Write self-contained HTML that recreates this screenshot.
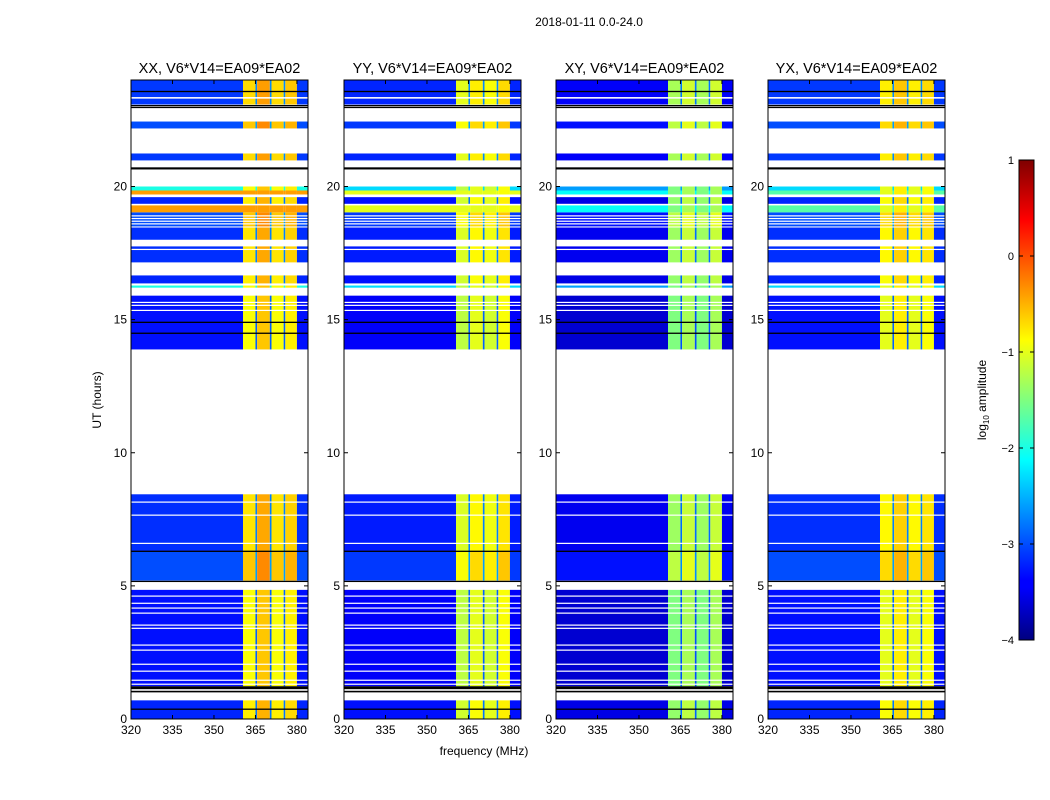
<!DOCTYPE html>
<html><head><meta charset="utf-8"><style>
body{margin:0;background:#fff;}
svg{display:block;font-family:"Liberation Sans",sans-serif;}
</style></head><body>
<svg id="fig" width="1050" height="800" viewBox="0 0 1050 800">
<rect width="1050" height="800" fill="#fff"/>
<text x="589" y="26" font-size="12" text-anchor="middle">2018-01-11 0.0-24.0</text>
<text transform="translate(101,400) rotate(-90)" font-size="12" text-anchor="middle">UT (hours)</text>
<text x="484" y="755" font-size="12" text-anchor="middle">frequency (MHz)</text>
<text transform="translate(986,400) rotate(-90)" font-size="12" text-anchor="middle">log<tspan font-size="8" dy="3">10</tspan><tspan dy="-3"> amplitude</tspan></text>
<defs><linearGradient id="jet" x1="0" y1="1" x2="0" y2="0">
<stop offset="0" stop-color="#00007f"/><stop offset="0.11" stop-color="#0000ff"/><stop offset="0.125" stop-color="#0000ff"/>
<stop offset="0.375" stop-color="#00ffff"/><stop offset="0.625" stop-color="#ffff00"/><stop offset="0.875" stop-color="#ff0000"/><stop offset="1" stop-color="#7f0000"/>
</linearGradient></defs>
<g id="cbar">
<rect x="1019" y="160" width="15" height="480" fill="url(#jet)" stroke="#000" stroke-width="1"/>
</g>
<g id="panels"></g>
</svg>
<script>
const panelTitles = ["XX, V6*V14=EA09*EA02","YY, V6*V14=EA09*EA02","XY, V6*V14=EA09*EA02","YX, V6*V14=EA09*EA02"];
const xTicks = [320,335,350,365,380];
const yTicks = [0,5,10,15,20];
const cbTicks = [1,0,-1,-2,-3,-4];
// frequency channel edges (MHz) and per-panel log10 amplitude levels
const chanStart = [320,360.5,365,365.6,370.2,370.8,375.2,375.8,380.0];
const chanEnd   = [360.5,365,365.6,370.2,370.8,375.2,375.8,380.0,384];
const chanXX = [-3.3,-0.9,-2.9,-0.6,-2.9,-0.9,-2.9,-0.8,-3.3];
const chanYY = [-3.4,-1.2,-2.9,-1.0,-2.9,-1.1,-2.9,-0.9,-3.4];
const chanXY = [-3.6,-1.5,-3.0,-1.3,-3.0,-1.5,-3.0,-1.3,-3.6];
const chanYX = [-3.3,-1.0,-2.9,-0.8,-2.9,-1.0,-2.9,-0.9,-3.3];
// time blocks with data (hours) and level offsets
const blockStart = [0,1.23,5.2,6.3,13.88,16.36,17.15,18.0,18.5,19.35,20.98,22.18,23.08,23.34];
const blockEnd   = [0.7,4.85,6.3,8.44,15.9,16.66,17.75,18.46,19.03,19.6,21.24,22.44,23.3,24];
const blockAdd   = [0.1,0,0.3,0.15,0,0.1,0.15,0.15,0.3,0.1,0.2,0.3,0.2,0.2];
// hot (broadband) rows and cyan rows
const hotStart = [19.03,19.7];
const hotEnd   = [19.29,19.85];
const hotFloor = [-0.4,-1.0,-2.1,-1.7];
const cyanStart = [19.85,16.2];
const cyanEnd   = [20.0,16.28];
const cyanFloor = [-2.0,-2.3,-2.6,-2.3];
// line flags
const blackLines = [0.37,5.17,6.3,14.49,14.9,20.68,22.97,23.04,23.57];
const blackThick = [[1.0,1.06],[1.12,1.23],[20.64,20.72]];
const whiteLines = [1.31,1.46,1.8,2.06,2.59,2.78,3.41,3.53,3.98,4.17,4.35,4.62,6.6,7.66,8.15,15.35,15.54,15.65,17.64,18.6,18.7,18.8,18.9,23.34];

const chans = [chanXX,chanYY,chanXY,chanYX];
const px0 = [131,344,556,768], pw = 177, py0 = 80, py1 = 719;
const yOf = h => py1 - (h/24)*(py1-py0);
const xOf = (p,f) => px0[p] + (f-320)*(pw/(384-320));
function jet(v){
  let t=(v+4)/5; t=Math.max(0,Math.min(1,t));
  const c=x=>Math.round(255*Math.max(0,Math.min(1,x)));
  return `rgb(${c(1.5-Math.abs(4*t-3))},${c(1.5-Math.abs(4*t-2))},${c(1.5-Math.abs(4*t-1))})`;
}
const NS="http://www.w3.org/2000/svg";
const G=document.getElementById('panels');
function mk(tag,attrs,parent){const e=document.createElementNS(NS,tag);for(const k in attrs)e.setAttribute(k,attrs[k]);(parent||G).appendChild(e);return e;}
for(let p=0;p<4;p++){
  const g=mk('g',{});
  
  
  const ch=chans[p];
  function band(h0,h1,fn,name){
    for(let j=0;j<chanStart.length;j++){
      const x=xOf(p,chanStart[j]), x2=xOf(p,chanEnd[j]);
      const r=mk('rect',{x:x,y:yOf(h1),width:x2-x,height:yOf(h0)-yOf(h1),fill:jet(fn(ch[j]))},g);
      
      
    }
  }
  for(let i=0;i<blockStart.length;i++) band(blockStart[i],blockEnd[i],v=>v+blockAdd[i],'heatmap-cell');
  for(let i=0;i<hotStart.length;i++) band(hotStart[i],hotEnd[i],v=>Math.max(v,hotFloor[p]),'hot-row-cell');
  for(let i=0;i<cyanStart.length;i++) band(cyanStart[i],cyanEnd[i],v=>Math.max(v,cyanFloor[p]),'cyan-row-cell');
  for(const h of whiteLines){const r=mk('rect',{x:px0[p],y:yOf(h)-0.5,width:pw,height:1.2,fill:'#fff'},g);
    }
  for(const h of blackLines){const r=mk('rect',{x:px0[p],y:yOf(h)-0.6,width:pw,height:1.3,fill:'#000'},g);
    }
  for(const b of blackThick){const r=mk('rect',{x:px0[p],y:yOf(b[1]),width:pw,height:yOf(b[0])-yOf(b[1]),fill:'#000'},g);
    }
  const fr=mk('rect',{x:px0[p],y:py0,width:pw,height:py1-py0,fill:'none',stroke:'#000','stroke-width':1},g);
  
  const t=mk('text',{x:px0[p]+pw/2,y:73,'font-size':14.5,'text-anchor':'middle'},g);
  t.textContent=panelTitles[p];
  
  for(const f of xTicks){const x=xOf(p,f);
    mk('line',{x1:x,y1:py1,x2:x,y2:py1-4,stroke:'#000'},g);mk('line',{x1:x,y1:py0,x2:x,y2:py0+4,stroke:'#000'},g);
    const l=mk('text',{x:x,y:py1+15,'font-size':12,'text-anchor':'middle'},g);l.textContent=f;
    }
  for(const h of yTicks){const y=yOf(h);
    mk('line',{x1:px0[p],y1:y,x2:px0[p]+4,y2:y,stroke:'#000'},g);mk('line',{x1:px0[p]+pw,y1:y,x2:px0[p]+pw-4,y2:y,stroke:'#000'},g);
    const l=mk('text',{x:px0[p]-4,y:y+4,'font-size':12,'text-anchor':'end'},g);l.textContent=h;
    }
}
const cb=document.getElementById('cbar');
for(const v of cbTicks){const y=160+(1-v)*96;
  mk('line',{x1:1019,y1:y,x2:1023,y2:y,stroke:'#000'},cb);mk('line',{x1:1034,y1:y,x2:1030,y2:y,stroke:'#000'},cb);
  const l=mk('text',{x:1014,y:y+4,'font-size':11,'text-anchor':'end'},cb);l.textContent=v<0?'\u2212'+(-v):v;
  }
</script>
</body></html>
